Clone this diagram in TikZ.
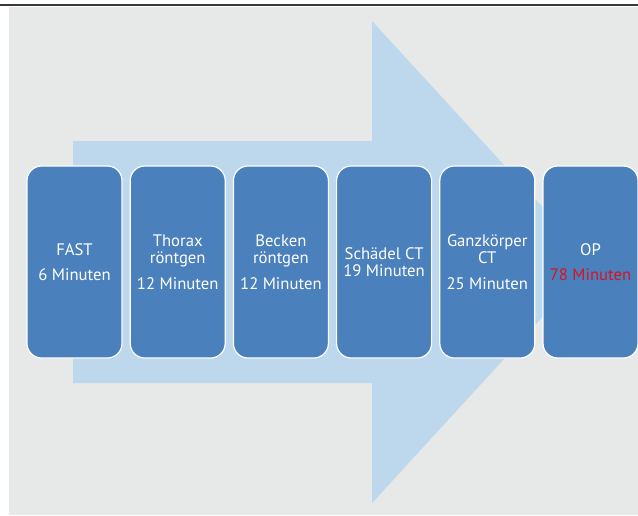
\documentclass[tikz,border=0pt]{standalone}
\usepackage{fontspec}
\setmainfont{PT Sans}
\usetikzlibrary{positioning}

\definecolor{bggrey}{HTML}{E7E8E8}
\definecolor{arrowblue}{HTML}{BDD8EC}
\definecolor{stageblue}{HTML}{4A80BC}
\definecolor{timered}{HTML}{D9121F}
\definecolor{rulegrey}{HTML}{383838}

\tikzset{
    stage/.style={draw=white, line width=0.9pt, fill=stageblue, rounded corners=11pt,
        minimum width=71.25pt, minimum height=144pt, inner sep=0pt, outer sep=0pt,
        text=white, align=center, font=\fontsize{12.5}{13}\selectfont},
}

\begin{document}
\begin{tikzpicture}[x=0.75pt, y=-0.75pt]
\useasboundingbox (0,0) rectangle (638,515);
\fill[bggrey] (9,7) rectangle (638,515);
\draw[rulegrey, line width=1.1pt] (0,5) -- (638,5);

% big arrow behind the stages
\fill[arrowblue] (73,141) -- (372,141) -- (372,21) -- (593,262)
    -- (372,503) -- (372,383) -- (73,383) -- cycle;

\node [stage] (fast) at (74.5,262) {FAST\\[6pt]6 Minuten};
\node [stage, right=6.15pt of fast] (thorax) {Thorax\\röntgen\\[6pt]12 Minuten};
\node [stage, right=6.15pt of thorax] (becken) {Becken\\röntgen\\[6pt]12 Minuten};
\node [stage, right=6.15pt of becken] (schaedel) {Schädel CT\\19 Minuten};
\node [stage, right=6.15pt of schaedel] (ganz) {Ganzkörper\\CT\\[6pt]25 Minuten};
\node [stage, right=6.15pt of ganz] (op) {OP\\[6pt]\textcolor{timered}{78 Minuten}};
\end{tikzpicture}
\end{document}
